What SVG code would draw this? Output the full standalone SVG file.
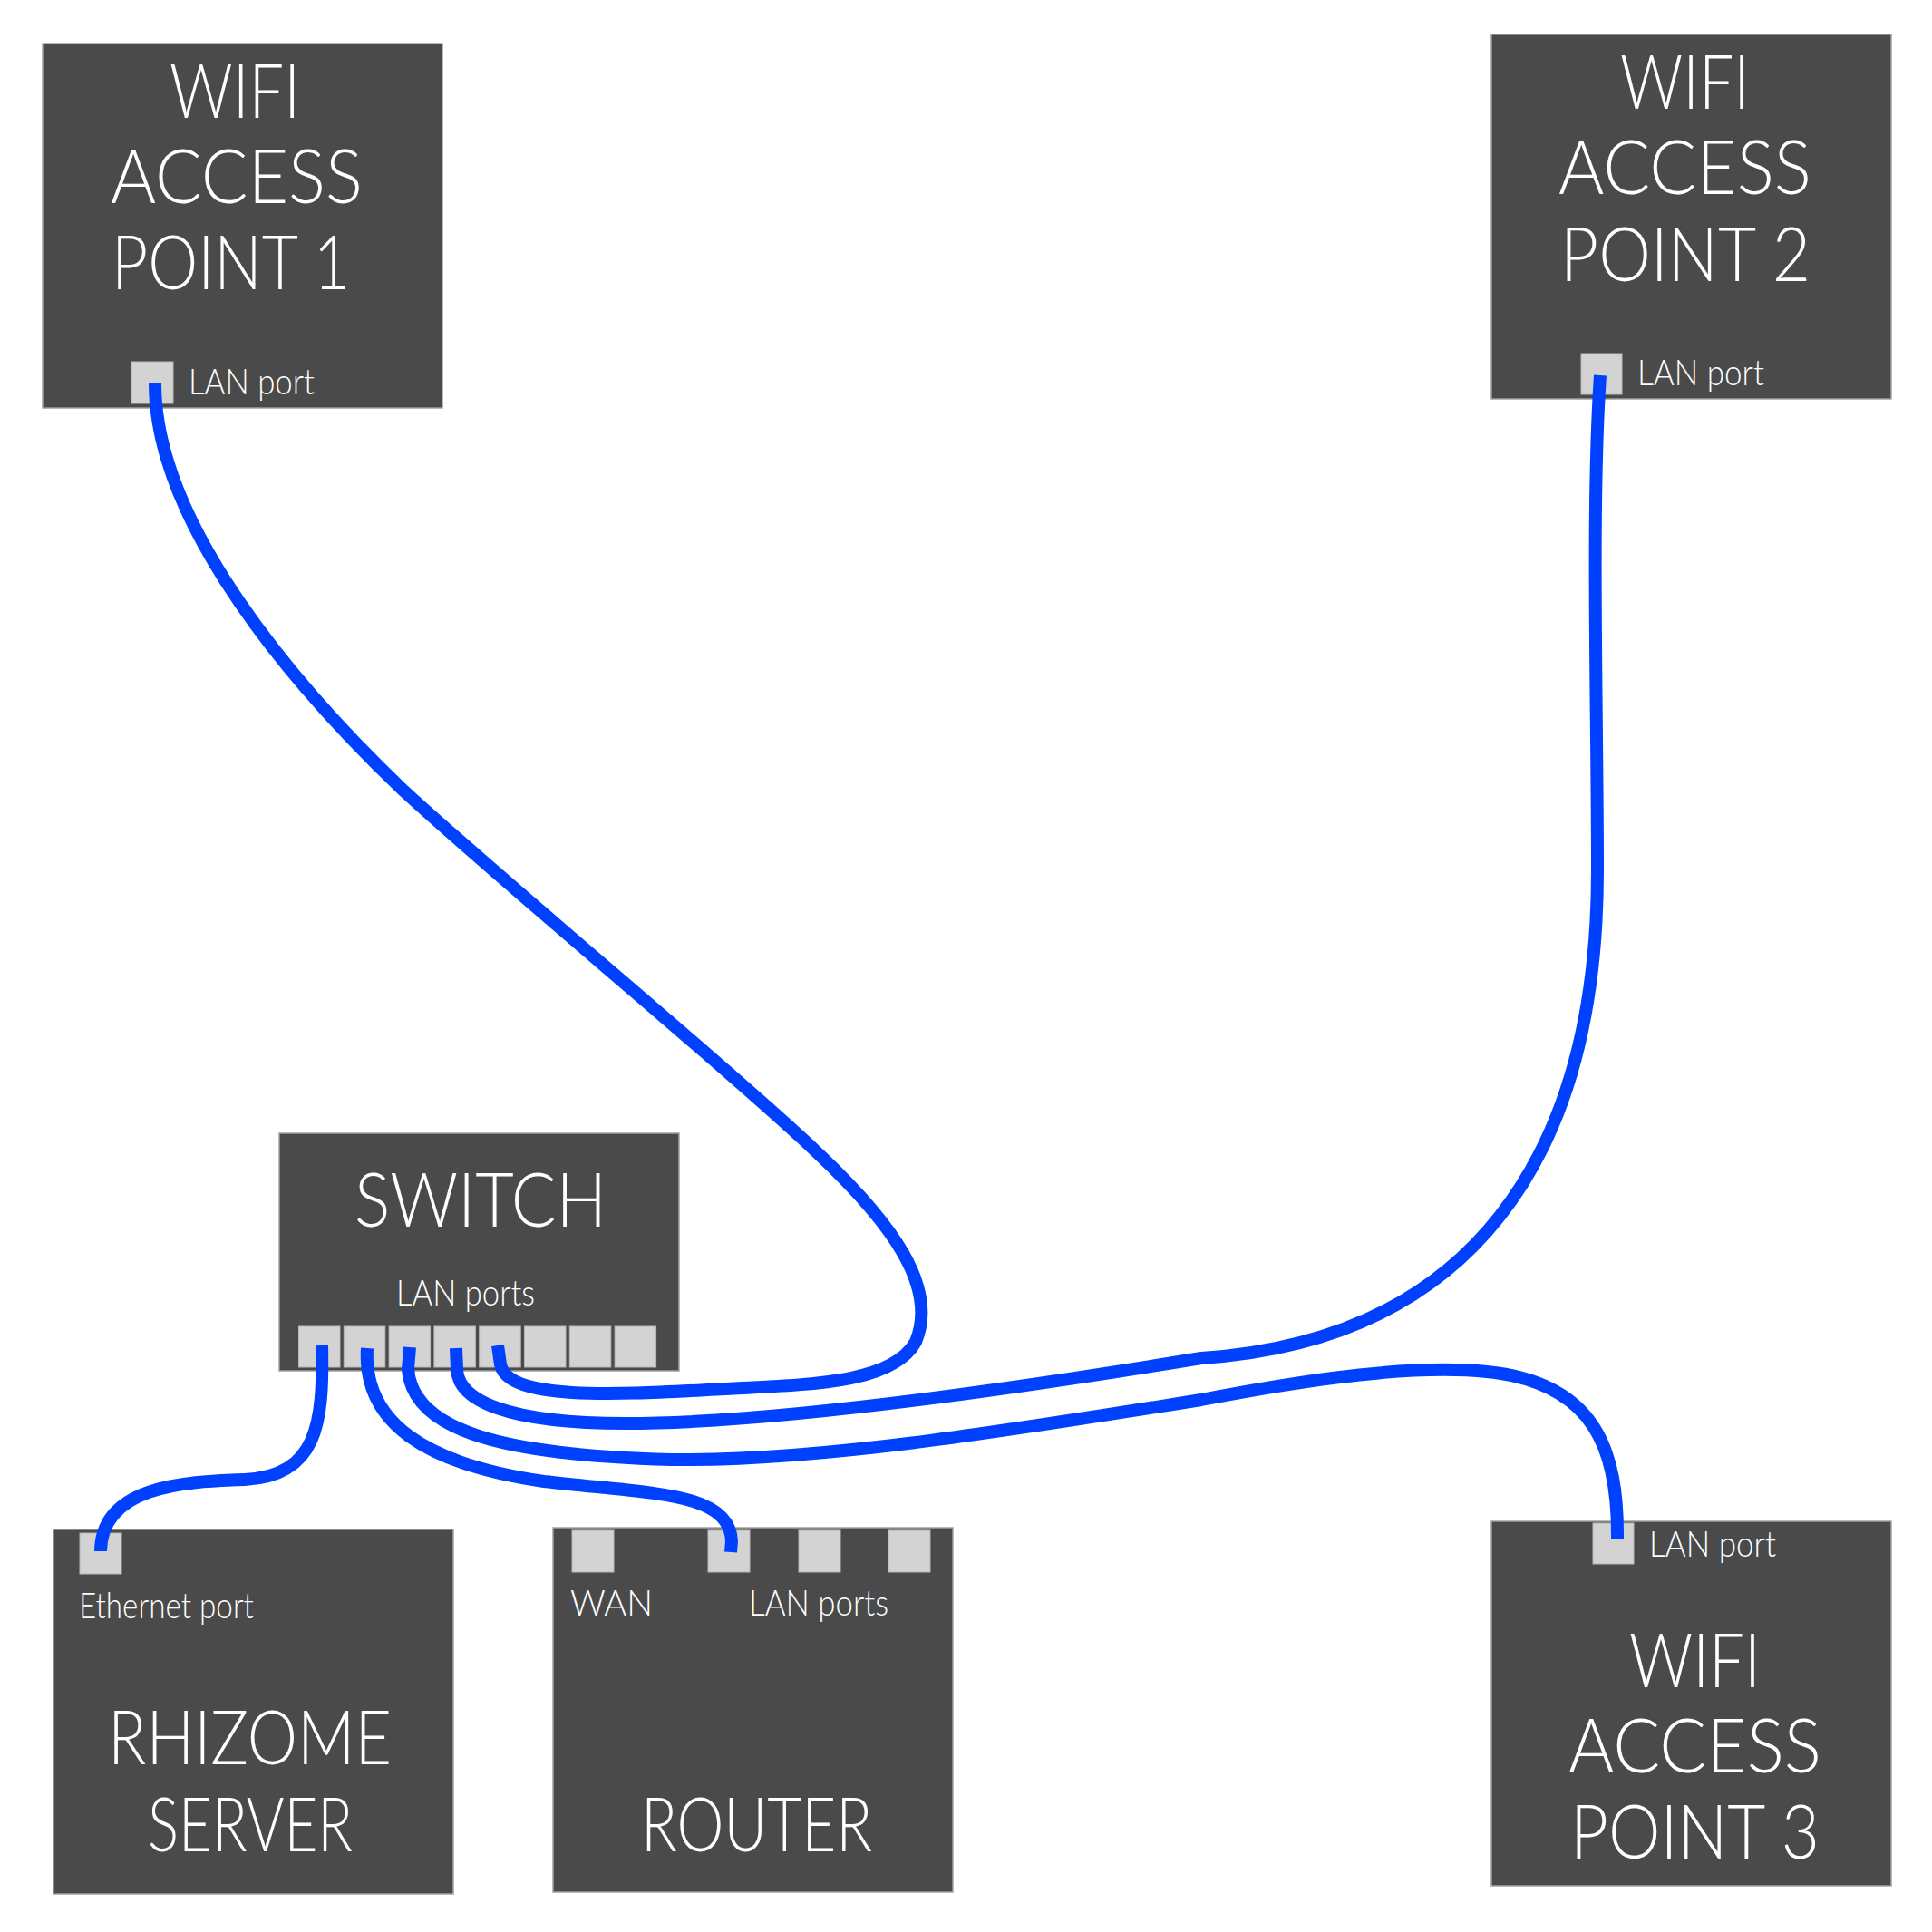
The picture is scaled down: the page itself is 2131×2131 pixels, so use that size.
<svg xmlns="http://www.w3.org/2000/svg" width="2131" height="2131" viewBox="0 0 2131 2131">
<style>
.box{fill:#4a4a4a;stroke:#a0a0a0;stroke-width:1.5}
.port{fill:#d3d3d3;stroke:#b8b8b8;stroke-width:1}
.title{font-family:Lato,"Open Sans","DejaVu Sans",sans-serif;font-weight:300;font-size:82px;fill:#ffffff}
.lbl{font-family:Lato,"Open Sans","DejaVu Sans",sans-serif;font-weight:300;font-size:39px;fill:#ffffff}
.cable{fill:none;stroke:#0041ff;stroke-width:14;stroke-linecap:butt;stroke-linejoin:miter}
</style>
<rect width="2131" height="2131" fill="#ffffff"/>
<g id="ap1">
<rect class="box" x="47" y="48" width="441" height="402"/>
<text class="title" x="187" y="130" textLength="144" lengthAdjust="spacingAndGlyphs">WIFI</text>
<text class="title" x="122" y="224" textLength="278" lengthAdjust="spacingAndGlyphs">ACCESS</text>
<text class="title" x="123" y="319" textLength="263" lengthAdjust="spacingAndGlyphs">POINT 1</text>
<rect class="port" x="145" y="399" width="46" height="46"/>
<text class="lbl" x="208" y="435" textLength="139" lengthAdjust="spacingAndGlyphs">LAN port</text>
</g>
<g id="ap2">
<rect class="box" x="1645" y="38" width="441" height="402"/>
<text class="title" x="1787" y="120" textLength="143" lengthAdjust="spacingAndGlyphs">WIFI</text>
<text class="title" x="1719" y="214" textLength="279" lengthAdjust="spacingAndGlyphs">ACCESS</text>
<text class="title" x="1721" y="310" textLength="276" lengthAdjust="spacingAndGlyphs">POINT 2</text>
<rect class="port" x="1744" y="390" width="45" height="45"/>
<text class="lbl" x="1806" y="425" textLength="140" lengthAdjust="spacingAndGlyphs">LAN port</text>
</g>
<g id="ap3">
<rect class="box" x="1645" y="1678" width="441" height="402"/>
<rect class="port" x="1757" y="1680" width="45" height="45"/>
<text class="lbl" x="1819" y="1717" textLength="140" lengthAdjust="spacingAndGlyphs">LAN port</text>
<text class="title" x="1797" y="1861" textLength="145" lengthAdjust="spacingAndGlyphs">WIFI</text>
<text class="title" x="1730" y="1955" textLength="279" lengthAdjust="spacingAndGlyphs">ACCESS</text>
<text class="title" x="1732" y="2050" textLength="275" lengthAdjust="spacingAndGlyphs">POINT 3</text>
</g>
<g id="switch">
<rect class="box" x="308" y="1250" width="441" height="262"/>
<text class="title" x="391" y="1353" textLength="278" lengthAdjust="spacingAndGlyphs">SWITCH</text>
<text class="lbl" x="437" y="1440" textLength="153" lengthAdjust="spacingAndGlyphs">LAN ports</text>
<rect class="port" x="329.5" y="1463" width="45.5" height="45"/>
<rect class="port" x="379.3" y="1463" width="45.5" height="45"/>
<rect class="port" x="429.1" y="1463" width="45.5" height="45"/>
<rect class="port" x="478.9" y="1463" width="45.5" height="45"/>
<rect class="port" x="528.7" y="1463" width="45.5" height="45"/>
<rect class="port" x="578.5" y="1463" width="45.5" height="45"/>
<rect class="port" x="628.3" y="1463" width="45.5" height="45"/>
<rect class="port" x="678.1" y="1463" width="45.5" height="45"/>
</g>
<g id="rhizome-server">
<rect class="box" x="59" y="1687" width="441" height="402"/>
<rect class="port" x="88" y="1691" width="46" height="45"/>
<text class="lbl" x="87" y="1785" textLength="193" lengthAdjust="spacingAndGlyphs">Ethernet port</text>
<text class="title" x="119" y="1946" textLength="313" lengthAdjust="spacingAndGlyphs">RHIZOME</text>
<text class="title" x="163" y="2042" textLength="226" lengthAdjust="spacingAndGlyphs">SERVER</text>
</g>
<g id="router">
<rect class="box" x="610" y="1685" width="441" height="402"/>
<rect class="port" x="631" y="1688" width="46" height="46"/>
<rect class="port" x="781" y="1688" width="46" height="46"/>
<rect class="port" x="881" y="1688" width="46" height="46"/>
<rect class="port" x="980" y="1688" width="46" height="46"/>
<text class="lbl" x="629" y="1782" textLength="91" lengthAdjust="spacingAndGlyphs">WAN</text>
<text class="lbl" x="826" y="1782" textLength="154" lengthAdjust="spacingAndGlyphs">LAN ports</text>
<text class="title" x="707" y="2042" textLength="255" lengthAdjust="spacingAndGlyphs">ROUTER</text>
</g>
<g id="connectors">
<path class="cable" d="M171 423 C171 580 330 762 444 871 C560 978 800 1175 900 1270 C985 1350 1035 1420 1010 1480 C985 1525 900 1527 800 1532 C700 1537 560 1548 552 1505 L549 1484"/>
<path class="cable" d="M1765 414 C1755 560 1762 780 1762 960 C1762 1280 1620 1478 1325 1498 C1100 1535 850 1570 690 1570 C560 1570 505 1545 504 1510 L503 1487"/>
<path class="cable" d="M452 1486 L450 1510 C455 1580 560 1605 740 1610 C900 1612 1100 1580 1325 1544 C1450 1520 1560 1505 1640 1513 C1760 1525 1785 1600 1784 1697"/>
<path class="cable" d="M405 1487 C400 1570 470 1615 600 1634 C720 1648 805 1645 807 1700 L806 1712"/>
<path class="cable" d="M355 1484 C357 1570 350 1628 270 1632 C200 1634 112 1640 111 1711"/>
</g>
</svg>
